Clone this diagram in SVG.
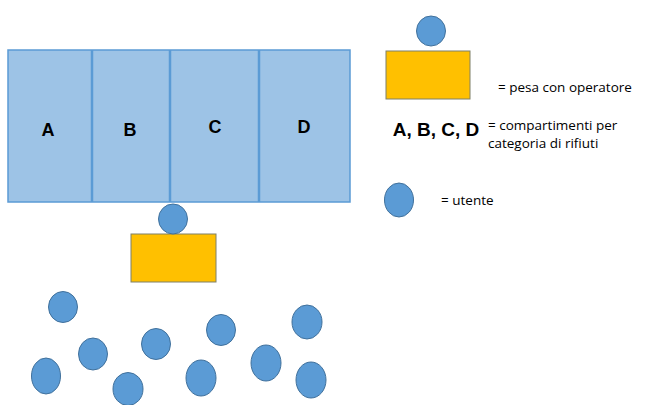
<svg xmlns="http://www.w3.org/2000/svg" width="645" height="405" viewBox="0 0 645 405">
<style>
.comp{fill:#9DC3E6;stroke:#5B9BD5;stroke-width:1.5}
.div{stroke:#5B9BD5;stroke-width:2.5}
.user{fill:#5B9BD5;stroke:#41719C;stroke-width:1}
.scale{fill:#FFC000;stroke:#7F8068;stroke-width:1}
.lbl{font-family:"Liberation Sans",Arial,sans-serif;font-weight:bold;font-size:18px;fill:#000;text-anchor:middle}
.leg{font-family:"Open Sans","Liberation Sans",sans-serif;font-size:13.5px;fill:#000}
</style>
<rect width="645" height="405" fill="#fff"/>
<g id="compartments">
<rect class="comp" x="8" y="50" width="342" height="152"/>
<line class="div" x1="92" y1="50" x2="92" y2="202"/>
<line class="div" x1="170" y1="50" x2="170" y2="202"/>
<line class="div" x1="259" y1="50" x2="259" y2="202"/>
</g>
<g id="A"><text class="lbl" x="48" y="136">A</text></g>
<g id="B"><text class="lbl" x="130" y="136">B</text></g>
<g id="C"><text class="lbl" x="215" y="133">C</text></g>
<g id="D"><text class="lbl" x="304" y="133">D</text></g>
<g id="pesa"><rect class="scale" x="131" y="234" width="85" height="48"/></g>
<g id="operatore"><ellipse class="user" cx="173" cy="219" rx="14.5" ry="15"/></g>
<g id="utenti">
<ellipse class="user" cx="63" cy="307" rx="14.5" ry="15.5"/>
<ellipse class="user" cx="93" cy="354" rx="14.5" ry="16"/>
<ellipse class="user" cx="46" cy="376" rx="14.5" ry="18"/>
<ellipse class="user" cx="128" cy="389" rx="15" ry="16.5"/>
<ellipse class="user" cx="156" cy="344" rx="14.5" ry="15.5"/>
<ellipse class="user" cx="221" cy="330" rx="14.5" ry="15.5"/>
<ellipse class="user" cx="201" cy="378" rx="15" ry="18"/>
<ellipse class="user" cx="266" cy="363" rx="15" ry="18"/>
<ellipse class="user" cx="307" cy="322" rx="15" ry="17"/>
<ellipse class="user" cx="311" cy="380" rx="15" ry="18"/>
</g>
<g id="legend">
<ellipse class="user" cx="431" cy="31" rx="14.5" ry="15"/>
<rect class="scale" x="386" y="51" width="84" height="48"/>
<text class="leg" x="498" y="92">= pesa con operatore</text>
<text class="lbl" x="436" y="136" style="font-size:19px">A, B, C, D</text>
<text class="leg" x="488" y="130">= compartimenti per</text>
<text class="leg" x="488" y="148">categoria di rifiuti</text>
<ellipse class="user" cx="399" cy="200" rx="14.5" ry="17"/>
<text class="leg" x="441" y="205">= utente</text>
</g>
</svg>
